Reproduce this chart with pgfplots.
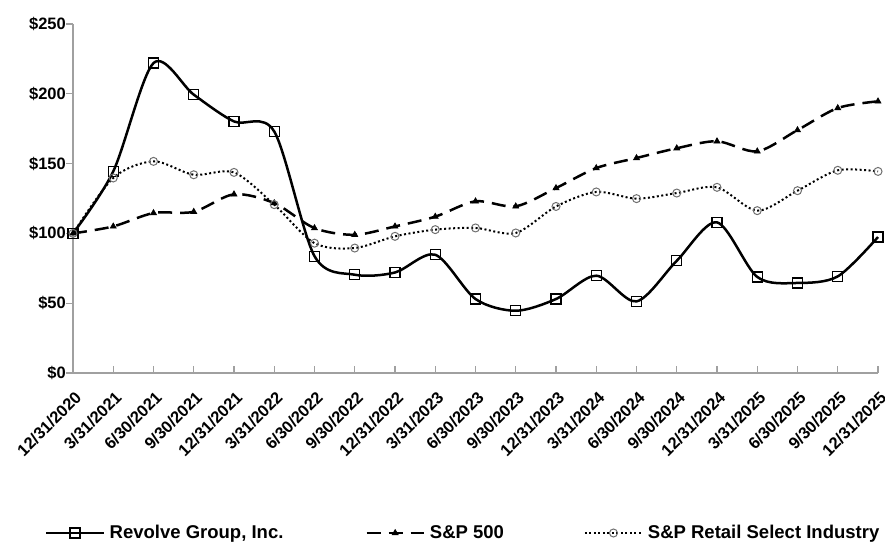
\documentclass[border=0pt]{standalone}
\usepackage{fontspec}
\setmainfont{Liberation Sans}
\usepackage{pgfplots}
\pgfplotsset{compat=1.18}
\definecolor{axgray}{HTML}{A0A0A0}
\definecolor{mkgray}{HTML}{707070}
\begin{document}
\begin{tikzpicture}
\path[use as bounding box] (-73pt,-173pt) rectangle (812pt,373pt);
\begin{axis}[
  at={(0pt,0pt)}, anchor=south west,
  scale only axis, width=805pt, height=349pt,
  xmin=0, xmax=20, ymin=0, ymax=250,
  axis lines*=left,
  axis line style={axgray, line width=1.3pt},
  every tick/.style={axgray, line width=1.2pt},
  major tick length=7pt,
  xtick={0,...,20},
  xticklabels={12/31/2020,3/31/2021,6/30/2021,9/30/2021,12/31/2021,3/31/2022,6/30/2022,9/30/2022,12/31/2022,3/31/2023,6/30/2023,9/30/2023,12/31/2023,3/31/2024,6/30/2024,9/30/2024,12/31/2024,3/31/2025,6/30/2025,9/30/2025,12/31/2025},
  ytick={0,50,100,150,200,250},
  yticklabel={\$\pgfmathprintnumber{\tick}},
  /pgf/number format/assume math mode=true,
  xtick align=inside,
  ytick align=outside,
  xticklabel style={font=\fontsize{16.5}{18}\selectfont\bfseries, inner sep=0pt, xshift=1pt, yshift=-17pt, rotate=45, anchor=north east},
  yticklabel style={font=\fontsize{16.5}{18}\selectfont\bfseries, inner sep=0pt, anchor=east},
  legend columns=3,
  legend style={at={(axis description cs:0,0)}, anchor=west, xshift=-28pt, yshift=-160pt,
    draw=none, fill=none, inner sep=0pt, font=\fontsize{18.5}{20}\selectfont\bfseries,
    nodes={inner sep=0pt},
    /tikz/every odd column/.append style={column sep=5pt},
    /tikz/column 2/.style={column sep=82pt},
    /tikz/column 4/.style={column sep=80pt}},
  legend image code/.code={\draw[mark repeat=2,mark phase=2,#1] plot coordinates {(0pt,0pt) (28.5pt,0pt) (57pt,0pt)};},
  clip=false,
]
\addplot[black, line width=2.5pt, smooth, tension=0.5, mark=square, mark size=5pt, mark options={solid, line width=1.3pt}]
coordinates {(0,100) (1,144.4) (2,222) (3,199.4) (4,180.2) (5,173) (6,83.7) (7,70.4) (8,72) (9,84.7) (10,53) (11,44.6) (12,53) (13,69.7) (14,51.3) (15,80.4) (16,107.9) (17,68.8) (18,64.5) (19,69.2) (20,97.4)};
\addlegendentry{Revolve Group, Inc.}
\addplot[black, line width=2.5pt, smooth, tension=0.5, dash pattern=on 14pt off 8pt, mark=triangle*, mark size=3.5pt, mark options={solid, line width=0.6pt}]
coordinates {(0,100) (1,105) (2,114.6) (3,115.5) (4,128) (5,121.7) (6,103.8) (7,99) (8,105) (9,112) (10,123) (11,119.4) (12,132.5) (13,146.8) (14,154) (15,161) (16,166) (17,158.8) (18,174) (19,189.8) (20,194.6)};
\addlegendentry{S\&P 500}
\addplot[black, line width=2pt, smooth, tension=0.5, dash pattern=on 2pt off 2.5pt, mark=o, mark size=4pt, mark options={solid, mkgray, line width=1pt}]
coordinates {(0,100) (1,139.7) (2,151.6) (3,142) (4,143.7) (5,120.6) (6,93) (7,89.5) (8,97.9) (9,102.7) (10,103.9) (11,100.3) (12,119.3) (13,129.7) (14,124.9) (15,128.9) (16,133) (17,116.3) (18,130.6) (19,145.2) (20,144.4)};
\addlegendentry{S\&P Retail Select Industry}
\end{axis}
\end{tikzpicture}
\end{document}
